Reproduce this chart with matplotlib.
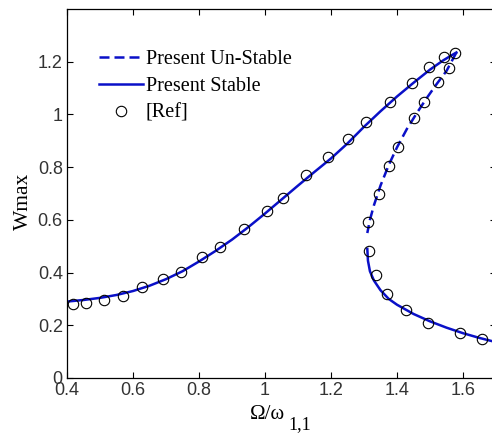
import matplotlib
matplotlib.use("Agg")
import matplotlib.pyplot as plt

# Stable upper branch (solid)
stable_up_x = [0.40, 0.45, 0.50, 0.55, 0.60, 0.65, 0.70, 0.75, 0.80, 0.85, 0.90, 0.95, 1.00, 1.05,
               1.10, 1.15, 1.20, 1.25, 1.30, 1.35, 1.40, 1.45, 1.50, 1.54, 1.565, 1.58]
stable_up_y = [0.290, 0.296, 0.304, 0.315, 0.330, 0.350, 0.375, 0.405, 0.442, 0.482, 0.525, 0.573, 0.624, 0.677,
               0.730, 0.782, 0.833, 0.890, 0.953, 1.012, 1.068, 1.120, 1.170, 1.205, 1.224, 1.235]
# Unstable branch (dashed)
unstable_x = [1.58, 1.565, 1.55, 1.52, 1.49, 1.46, 1.43, 1.40, 1.375, 1.35, 1.33, 1.318, 1.31]
unstable_y = [1.235, 1.200, 1.165, 1.115, 1.062, 1.005, 0.945, 0.875, 0.808, 0.730, 0.655, 0.600, 0.550]
# Stable lower branch (solid)
stable_lo_x = [1.310, 1.312, 1.318, 1.330, 1.350, 1.375, 1.40, 1.45, 1.50, 1.55, 1.60, 1.65, 1.70]
stable_lo_y = [0.490, 0.445, 0.405, 0.370, 0.333, 0.300, 0.278, 0.243, 0.215, 0.191, 0.170, 0.152, 0.136]
# Reference points
ref_x = [0.417, 0.457, 0.512, 0.571, 0.626, 0.691, 0.744, 0.808, 0.864, 0.937, 1.007, 1.054, 1.124,
         1.190, 1.252, 1.307, 1.378, 1.446, 1.498, 1.541, 1.576,
         1.559, 1.523, 1.483, 1.452, 1.402, 1.376, 1.344, 1.313,
         1.315, 1.336, 1.369, 1.427, 1.495, 1.591, 1.658]
ref_y = [0.279, 0.284, 0.297, 0.313, 0.345, 0.374, 0.404, 0.458, 0.496, 0.565, 0.634, 0.684, 0.772,
         0.838, 0.907, 0.970, 1.049, 1.118, 1.180, 1.219, 1.232,
         1.177, 1.122, 1.049, 0.986, 0.875, 0.806, 0.699, 0.590,
         0.480, 0.392, 0.317, 0.259, 0.210, 0.171, 0.149]

xticks = [0.4, 0.6, 0.8, 1.0, 1.2, 1.4, 1.6]
xticklabels = ["0.4", "0.6", "0.8", "1", "1.2", "1.4", "1.6"]
yticks = [0, 0.2, 0.4, 0.6, 0.8, 1.0, 1.2]
yticklabels = ["0", "0.2", "0.4", "0.6", "0.8", "1", "1.2"]
legend_labels = ["Present Un-Stable", "Present Stable", "[Ref]"]

blue = "#0a10c8"
serif = "Liberation Serif"
sans = "Liberation Sans"

W, H = 492, 434
fig = plt.figure(figsize=(W / 100, H / 100), dpi=100)
ax = fig.add_axes([67 / W, 56 / H, 429 / W, 369 / H])

l1, = ax.plot(unstable_x, unstable_y, '--', color=blue, lw=1.8, dashes=(4, 2))
l2, = ax.plot(stable_up_x, stable_up_y, '-', color=blue, lw=1.8)
ax.plot(stable_lo_x, stable_lo_y, '-', color=blue, lw=1.8)
l3, = ax.plot(ref_x, ref_y, 'o', mfc='none', mec='black', ms=7.5, mew=0.8, ls='none')

ax.set_xlim(0.4, 1.7)
ax.set_ylim(0, 1.4)
ax.set_xticks(xticks)
ax.set_xticklabels(xticklabels, fontfamily=sans, fontsize=13, color='#333333')
ax.set_yticks(yticks)
ax.set_yticklabels(yticklabels, fontfamily=sans, fontsize=13, color='#333333')
ax.tick_params(direction='in', length=4, width=0.8, top=True, right=True, pad=3)
for s in ax.spines.values():
    s.set_linewidth(0.9)

ax.set_ylabel("Wmax", fontfamily=serif, fontsize=15.5)
ax.yaxis.set_label_coords(-0.079, 0.48)

# x label: Omega/omega with a large, low subscript
fig.text(250 / W, (H - 419) / H, "Ω/ω", fontfamily=serif, fontsize=15, ha='left', va='baseline')
fig.text(288 / W, (H - 429) / H, "1,1", fontfamily=serif, fontsize=13, ha='left', va='baseline')

leg = ax.legend([l1, l2, l3], legend_labels,
                loc='upper left', bbox_to_anchor=(0.055, 0.912), frameon=False,
                prop={'family': serif, 'size': 14.5}, handlelength=2.2, handletextpad=0.15,
                labelspacing=0.4, borderaxespad=0)

fig.savefig("out.png", dpi=100)
